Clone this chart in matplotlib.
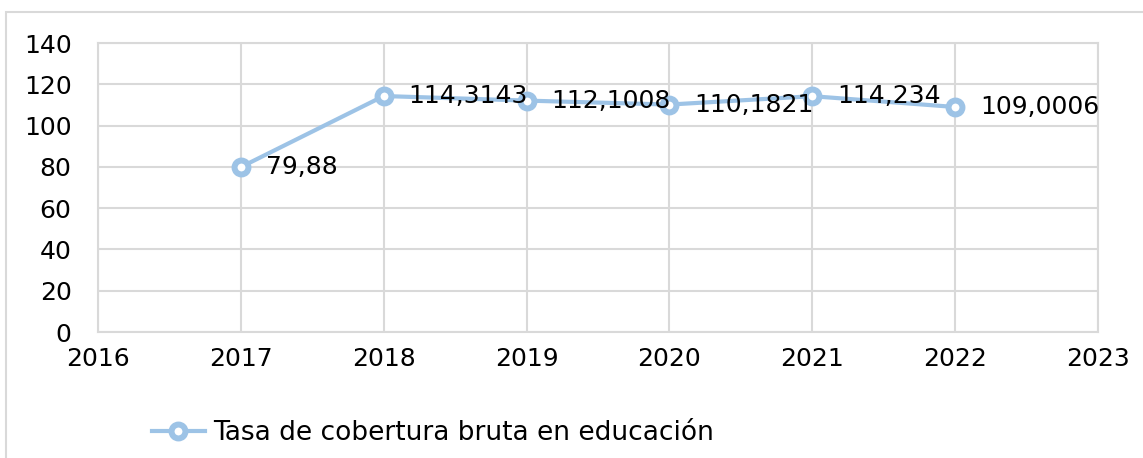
import matplotlib.pyplot as plt
from matplotlib.patches import Rectangle

# data
years = [2017, 2018, 2019, 2020, 2021, 2022]
tasa = [79.88, 114.3143, 112.1008, 110.1821, 114.234, 109.0006]
labels = ['79,88', '114,3143', '112,1008', '110,1821', '114,234', '109,0006']
y_ticks = [0, 20, 40, 60, 80, 100, 120, 140]
x_ticks = [2016, 2017, 2018, 2019, 2020, 2021, 2022, 2023]
serie_name = 'Tasa de cobertura bruta en educación'

line_color = '#9DC3E6'
grid_color = '#D9D9D9'
fs = 18

plt.rcParams['font.family'] = ['DejaVu Sans']

fig = plt.figure(figsize=(11.43, 4.58), dpi=100)
ax = fig.add_axes([0.0857, 0.2751, 0.8749, 0.6310])

# outer chart border (runs off the image right and bottom)
fig.patches.append(Rectangle((6 / 1143, -0.1), 1.2, 0.9738 + 0.1,
                             transform=fig.transFigure, fill=False,
                             edgecolor=grid_color, linewidth=1.5))

ax.plot(years, tasa, color=line_color, linewidth=3, marker='o',
        markersize=10, markerfacecolor='white', markeredgecolor=line_color,
        markeredgewidth=4.3, label=serie_name, zorder=3)

for x, y, t in zip(years, tasa, labels):
    ax.annotate(t, (x, y), xytext=(18, 0), textcoords='offset points',
                ha='left', va='center', fontsize=fs, color='black', zorder=4)

ax.set_xlim(2016, 2023)
ax.set_ylim(0, 140)
ax.set_xticks(x_ticks)
ax.set_yticks(y_ticks)
ax.tick_params(axis='both', length=0, labelsize=fs, colors='black')
ax.tick_params(axis='y', pad=19)
ax.tick_params(axis='x', pad=11)
ax.grid(True, color=grid_color, linewidth=1.5)
ax.set_axisbelow(True)
for s in ax.spines.values():
    s.set_color(grid_color)
    s.set_linewidth(1.5)

fig.legend(loc='center left', bbox_to_anchor=(152 / 1143, 1 - 433 / 458),
           frameon=False, fontsize=19, handlelength=2.0, handletextpad=0.3,
           borderpad=0, borderaxespad=0)

fig.savefig('out.png', dpi=100)
